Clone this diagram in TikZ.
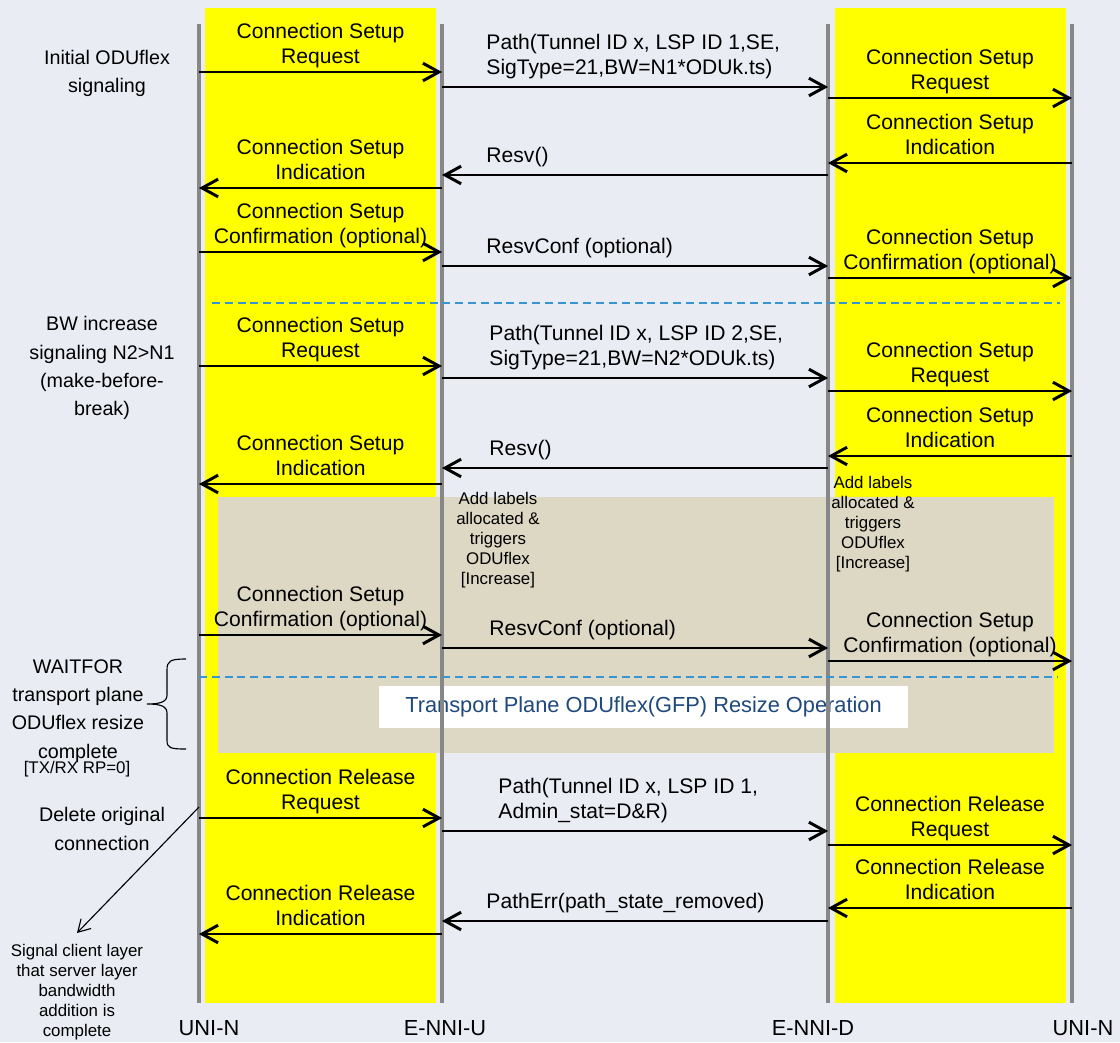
\documentclass[tikz,border=0pt]{standalone}
\usepackage{fontspec}
\setmainfont{Liberation Sans}
\usetikzlibrary{arrows.meta,positioning,calc,decorations.pathreplacing}
\definecolor{bgblue}{RGB}{233,236,243}
\definecolor{colyellow}{RGB}{255,255,0}
\definecolor{planetan}{RGB}{221,216,195}
\definecolor{sepblue}{RGB}{55,150,210}
\definecolor{opblue}{RGB}{31,73,125}
\definecolor{lifegray}{RGB}{135,135,135}

\begin{document}
\begin{tikzpicture}[x=0.025cm,y=-0.025cm,>={Straight Barb[length=4mm,width=4.4mm]},
 life/.style={lifegray,line width=2.8pt},
 msg/.style={->,line width=2.1pt},
 lbl/.style={above=1pt,align=center,inner sep=0pt,text depth=4pt,font=\fontsize{15}{17.8}\selectfont},
 midlbl/.style={anchor=south west,align=left,inner sep=0pt,text depth=0pt,font=\fontsize{15}{17.8}\selectfont},
 side/.style={align=center,inner sep=0pt,font=\fontsize{14}{20}\selectfont},
 small/.style={align=center,inner sep=0pt,font=\fontsize{12}{14.2}\selectfont},
 sep/.style={sepblue,dash pattern=on 2mm off 1.2mm,line width=1pt}]
 \useasboundingbox[fill=bgblue] (0,0) rectangle (1120,1042);
 \fill[colyellow] (205,8) rectangle (436,1003);
 \fill[colyellow] (835,8) rectangle (1066,1003);
 \fill[planetan] (218,497) rectangle (1054,753);
 \node[fill=white,minimum width=13.22cm,minimum height=1.05cm,inner sep=0pt,text=opblue,font=\fontsize{15.5}{18}\selectfont] (tp) at (643.5,707) {Transport Plane ODUflex(GFP) Resize Operation};
 \coordinate (un) at (199,0);
 \coordinate (eu) at (442,0);
 \coordinate (ed) at (828,0);
 \coordinate (ur) at (1072,0);
 \foreach \l in {un,eu,ed,ur}
  \draw[life] (\l |- 0,24) -- (\l |- 0,1003);
 \coordinate (s1a) at (212,303);
 \coordinate (s1b) at (1060,303);
 \coordinate (s2a) at (199,677);
 \coordinate (s2b) at (1058,677);
 \draw[sep] (s1a) -- (s1b);
 \draw[sep] (s2a) -- (s2b);
 \foreach \y/\a/\b/\t in {72/un/eu/{Connection Setup\\Request},
   98/ed/ur/{Connection Setup\\Request},
   163/ur/ed/{Connection Setup\\Indication},
   188/eu/un/{Connection Setup\\Indication},
   252/un/eu/{Connection Setup\\Confirmation (optional)},
   278/ed/ur/{Connection Setup\\Confirmation (optional)},
   366/un/eu/{Connection Setup\\Request},
   391/ed/ur/{Connection Setup\\Request},
   456/ur/ed/{Connection Setup\\Indication},
   484/eu/un/{Connection Setup\\Indication},
   635/un/eu/{Connection Setup\\Confirmation (optional)},
   661/ed/ur/{Connection Setup\\Confirmation (optional)},
   818/un/eu/{Connection Release\\Request},
   845/ed/ur/{Connection Release\\Request},
   908/ur/ed/{Connection Release\\Indication},
   934/eu/un/{Connection Release\\Indication}}
  \draw[msg] (\a |- 0,\y) -- node[lbl] (s\y) {\t} (\b |- 0,\y);
 \foreach \y/\a/\b/\x/\t in {87/eu/ed/485/{Path(Tunnel ID x, LSP ID 1,SE,\\SigType=21,BW=N1*ODUk.ts)},
   175/ed/eu/485/{Resv()},
   266/eu/ed/485/{ResvConf (optional)},
   378/eu/ed/488/{Path(Tunnel ID x, LSP ID 2,SE,\\SigType=21,BW=N2*ODUk.ts)},
   468/ed/eu/488/{Resv()},
   648/eu/ed/488/{ResvConf (optional)},
   831/eu/ed/497/{Path(Tunnel ID x, LSP ID 1,\\Admin\_stat=D\&R)},
   921/ed/eu/485/{PathErr(path\_state\_removed)}}
  \draw[msg] (\a |- 0,\y) -- (\b |- 0,\y) node[midlbl] (m\y) at (\x,\y-11) {\t};
 \node[small] (addU) at (498,540) {Add labels\\allocated \&\\triggers\\ODUflex\\{}[Increase]};
 \node[small] (addD) at (873,524) {Add labels\\allocated \&\\triggers\\ODUflex\\{}[Increase]};
 \node[side] (init) at (107,73) {Initial ODUflex\\signaling};
 \node[side] (bw) at (102,368) {BW increase\\signaling N2>N1\\(make-before-\\break)};
 \node[side] (wait) at (78,711) {WAITFOR\\transport plane\\ODUflex resize\\complete};
 \node[small] (rp) at (77,769) {[TX/RX RP=0]};
 \node[side] (del) at (102,829) {Delete original\\connection};
 \node[small] (sig) at (77,992) {Signal client layer\\that server layer\\bandwidth\\addition is\\complete};
 \draw[line width=0.8pt] (186,659) .. controls (170,659) and (167,661) .. (167,670) -- (167,695)
  .. controls (167,702) and (160,704) .. (147,704) .. controls (160,704) and (167,706) .. (167,713)
  -- (167,740) .. controls (167,748) and (170,749) .. (186,749);
 \coordinate (delA) at (199,807);
 \coordinate (sigA) at (77,933);
 \draw[->,>={Straight Barb[length=3mm,width=3.5mm]},line width=0.8pt] (delA) -- (sigA);
 \foreach \x/\n/\t in {209/bUN/UNI-N,445/bEU/E-NNI-U,813/bED/E-NNI-D,1083/bUR/UNI-N}
  \node[font=\fontsize{15.5}{18}\selectfont,inner sep=0pt] (\n) at (\x,1028) {\t};
\end{tikzpicture}
\end{document}
